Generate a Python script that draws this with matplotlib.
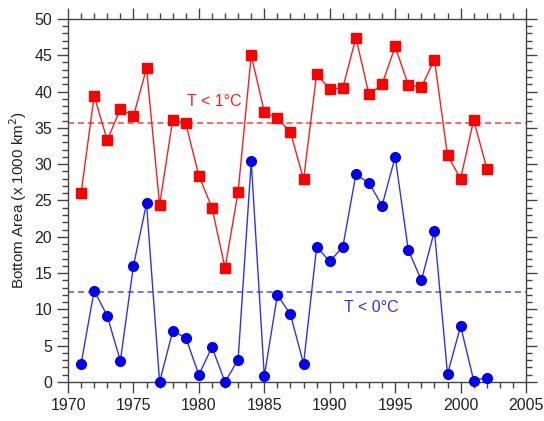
import matplotlib
matplotlib.use("Agg")
import matplotlib.pyplot as plt
from matplotlib.ticker import MultipleLocator

plt.rcParams["font.family"] = ["Liberation Sans", "DejaVu Sans"]

years = list(range(1971, 2003))

# bottom area with T < 1 C (x 1000 km^2)
area_lt1 = [26.0, 39.4, 33.3, 37.6, 36.6, 43.2, 24.4, 36.1, 35.6, 28.4,
            24.0, 15.7, 26.2, 45.0, 37.2, 36.3, 34.4, 27.9, 42.4, 40.3,
            40.5, 47.4, 39.6, 41.0, 46.2, 40.9, 40.6, 44.4, 31.2, 28.0,
            36.1, 29.4]
# bottom area with T < 0 C (x 1000 km^2)
area_lt0 = [2.5, 12.6, 9.1, 2.9, 16.0, 24.6, 0.0, 7.0, 6.1, 1.0,
            4.8, 0.0, 3.1, 30.4, 0.8, 12.0, 9.3, 2.5, 18.6, 16.6,
            18.6, 28.6, 27.4, 24.3, 31.0, 18.2, 14.0, 20.8, 1.1, 7.7,
            0.2, 0.6]

mean_lt1 = 35.7
mean_lt0 = 12.4

red = "#ee2222"
blue = "#3333dd"

dpi = 100
fig = plt.figure(figsize=(544 / dpi, 421 / dpi), dpi=dpi)
ax = fig.add_axes([0.125, 0.0926, 0.842, 0.8625])

ax.axhline(mean_lt1, color=red, lw=1.1, ls=(0, (4, 2.5)), alpha=0.85, zorder=1)
ax.axhline(mean_lt0, color=blue, lw=1.1, ls=(0, (4, 2.5)), alpha=0.85, zorder=1)

ax.plot(years, area_lt1, color=red, lw=1.0, marker="s", ms=6.5,
        mfc="#ff0000", mec="#ff0000", zorder=3, clip_on=False)
ax.plot(years, area_lt0, color=blue, lw=1.0, marker="o", ms=7,
        mfc="#0000ee", mec="#0000ee", zorder=3, clip_on=False)

ax.text(1981.2, 38.6, "T < 1°C", color=red, fontsize=11.5, ha="center", va="center")
ax.text(1993.2, 10.3, "T < 0°C", color=blue, fontsize=11.5, ha="center", va="center")

ax.set_xlim(1970, 2005)
ax.set_ylim(0, 50)
ax.xaxis.set_major_locator(MultipleLocator(5))
ax.xaxis.set_minor_locator(MultipleLocator(1))
ax.yaxis.set_major_locator(MultipleLocator(5))
ax.yaxis.set_minor_locator(MultipleLocator(1))
ax.tick_params(which="both", direction="out", top=True, right=True,
               labeltop=False, labelright=False, color="#444444",
               labelsize=11.5, labelcolor="#222222")
ax.tick_params(which="major", length=8, width=1.0)
ax.tick_params(which="minor", length=4.5, width=1.0)
for s in ax.spines.values():
    s.set_color("#444444")
    s.set_linewidth(1.0)

ax.set_ylabel("Bottom Area (x 1000 km$^2$)", fontsize=11, color="#222222", labelpad=4)

fig.savefig("out.png", dpi=dpi)
